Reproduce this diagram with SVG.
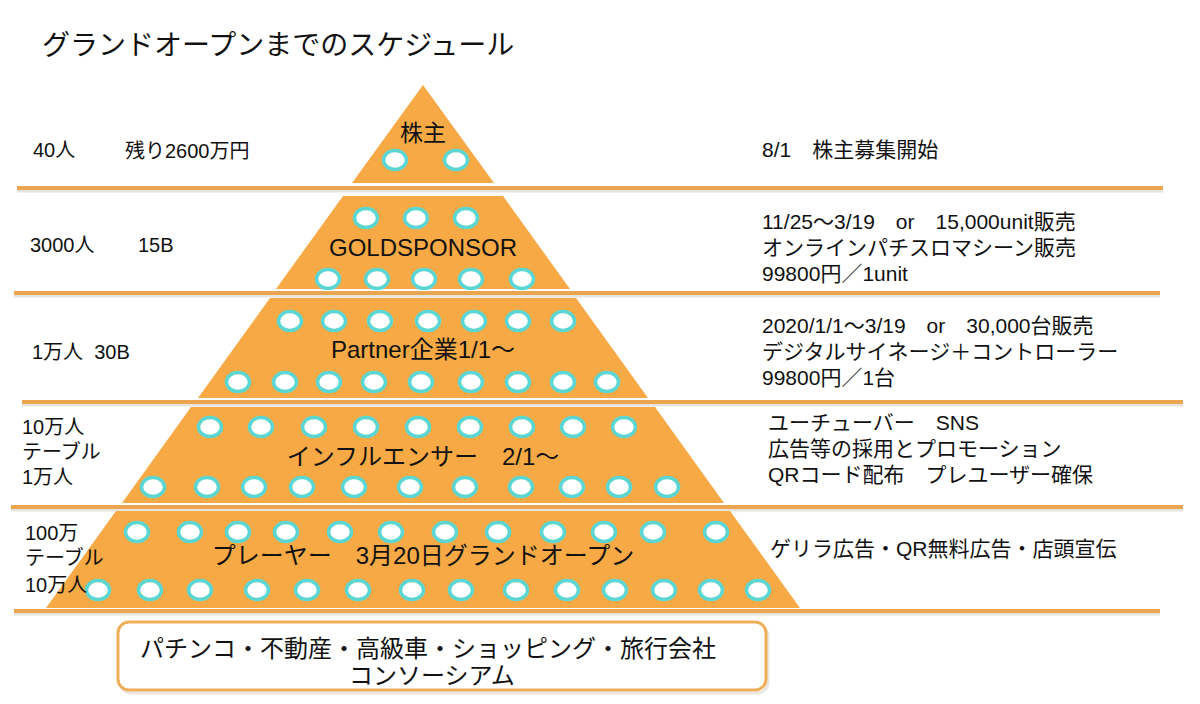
<svg xmlns="http://www.w3.org/2000/svg" width="1200" height="704" viewBox="0 0 1200 704">
<defs>
<style>
.t{font-family:"Liberation Sans","Noto Sans CJK JP",sans-serif;fill:#111;}
.s20{font-size:20px;}
.s21{font-size:21px;}
.s23{font-size:23px;}
.s24{font-size:24px;}
.c{text-anchor:middle;}
.layer{fill:#F6A944;}
.dot{fill:#FFFFFF;stroke:#5CD6D2;stroke-width:3.5;}
.sep{stroke:#EBA54F;stroke-width:4;stroke-linecap:butt;}
.sh{stroke:#D8D2CA;stroke-width:3;opacity:0.6;}
</style>
<ellipse id="d" rx="11.5" ry="9.5" class="dot"/>
</defs>
<rect width="1200" height="704" fill="#FFFFFF"/>

<text class="t" x="42" y="55" style="font-size:28px">グランドオープンまでのスケジュール</text>

<g id="separators">
<line class="sh" x1="17" y1="191" x2="1163" y2="191"/>
<line class="sep" x1="17" y1="188" x2="1163" y2="188"/>
<line class="sh" x1="14" y1="296" x2="1160" y2="296"/>
<line class="sep" x1="14" y1="293" x2="1160" y2="293"/>
<line class="sh" x1="22" y1="405" x2="1183" y2="405"/>
<line class="sep" x1="22" y1="402" x2="1183" y2="402"/>
<line class="sh" x1="11" y1="510" x2="1183" y2="510"/>
<line class="sep" x1="11" y1="507" x2="1183" y2="507"/>
<line class="sh" x1="14" y1="614" x2="1160" y2="614"/>
<line class="sep" x1="14" y1="611" x2="1160" y2="611"/>
</g>

<g id="layer1">
<polygon class="layer" points="423,85 494,183 352,183"/>
<text class="t s23 c" x="423" y="141">株主</text>
<use href="#d" x="395" y="160"/><use href="#d" x="456" y="160"/>
</g>

<g id="layer2">
<polygon class="layer" points="343,196 503,196 570,289 276,289"/>
<use href="#d" x="366" y="218"/><use href="#d" x="416" y="218"/><use href="#d" x="466" y="218"/>
<text class="t s24 c" x="423" y="256">GOLDSPONSOR</text>
<use href="#d" x="328" y="279"/><use href="#d" x="377" y="279"/><use href="#d" x="424" y="279"/><use href="#d" x="471" y="279"/><use href="#d" x="522" y="279"/>
</g>

<g id="layer3">
<polygon class="layer" points="270,298 576,298 648,398 198,398"/>
<use href="#d" x="290" y="321"/><use href="#d" x="334" y="321"/><use href="#d" x="380" y="321"/><use href="#d" x="428" y="321"/><use href="#d" x="474" y="321"/><use href="#d" x="518" y="321"/><use href="#d" x="563" y="321"/>
<text class="t s24 c" x="423" y="358">Partner企業1/1～</text>
<use href="#d" x="238" y="382"/><use href="#d" x="285" y="382"/><use href="#d" x="329" y="382"/><use href="#d" x="374" y="382"/><use href="#d" x="421" y="382"/><use href="#d" x="471" y="382"/><use href="#d" x="518" y="382"/><use href="#d" x="563" y="382"/><use href="#d" x="607" y="382"/>
</g>

<g id="layer4">
<polygon class="layer" points="191,407 655,407 724,503 122,503"/>
<use href="#d" x="210" y="427"/><use href="#d" x="261" y="427"/><use href="#d" x="314" y="427"/><use href="#d" x="366" y="427"/><use href="#d" x="418" y="427"/><use href="#d" x="470" y="427"/><use href="#d" x="522" y="427"/><use href="#d" x="573" y="427"/><use href="#d" x="624" y="427"/>
<text class="t s24 c" x="423" y="465">インフルエンサー　2/1～</text>
<use href="#d" x="153" y="487"/><use href="#d" x="207" y="487"/><use href="#d" x="254" y="487"/><use href="#d" x="302" y="487"/><use href="#d" x="354" y="487"/><use href="#d" x="410" y="487"/><use href="#d" x="465" y="487"/><use href="#d" x="521" y="487"/><use href="#d" x="572" y="487"/><use href="#d" x="619" y="487"/><use href="#d" x="667" y="487"/>
</g>

<g id="layer5">
<polygon class="layer" points="116,511 730,511 800,608 46,608"/>
<use href="#d" x="137" y="532"/><use href="#d" x="190" y="532"/><use href="#d" x="238" y="532"/><use href="#d" x="286" y="532"/><use href="#d" x="340" y="532"/><use href="#d" x="391" y="532"/><use href="#d" x="445" y="532"/><use href="#d" x="498" y="532"/><use href="#d" x="553" y="532"/><use href="#d" x="604" y="532"/><use href="#d" x="653" y="532"/><use href="#d" x="716" y="532"/>
<text class="t s24 c" x="423" y="564">プレーヤー　3月20日グランドオープン</text>
<use href="#d" x="98" y="590"/><use href="#d" x="150" y="590"/><use href="#d" x="200" y="590"/><use href="#d" x="257" y="590"/><use href="#d" x="307" y="590"/><use href="#d" x="358" y="590"/><use href="#d" x="412" y="590"/><use href="#d" x="461" y="590"/><use href="#d" x="516" y="590"/><use href="#d" x="567" y="590"/><use href="#d" x="615" y="590"/><use href="#d" x="664" y="590"/><use href="#d" x="711" y="590"/><use href="#d" x="758" y="590"/>
</g>

<g id="left-labels">
<text class="t s20" x="33" y="157">40人</text>
<text class="t s20" x="125" y="158">残り2600万円</text>
<text class="t s20" x="30" y="252">3000人</text>
<text class="t s20" x="138" y="252">15B</text>
<text class="t s20" x="32" y="359">1万人&#160;&#160;30B</text>
<text class="t s20" x="22" y="434">10万人</text>
<text class="t s20" x="22" y="459">テーブル</text>
<text class="t s20" x="22" y="484">1万人</text>
<text class="t s20" x="25" y="540">100万</text>
<text class="t s20" x="25" y="565">テーブル</text>
<text class="t s20" x="25" y="592">10万人</text>
</g>

<g id="right-labels">
<text class="t s21" x="762" y="157">8/1　株主募集開始</text>
<text class="t s21" x="762" y="229">11/25～3/19　or　15,000unit販売</text>
<text class="t s21" x="762" y="255">オンラインパチスロマシーン販売</text>
<text class="t s21" x="762" y="281">99800円／1unit</text>
<text class="t s21" x="762" y="333">2020/1/1～3/19　or　30,000台販売</text>
<text class="t s21" x="762" y="359">デジタルサイネージ＋コントローラー</text>
<text class="t s21" x="762" y="385">99800円／1台</text>
<text class="t s21" x="768" y="430">ユーチューバー　SNS</text>
<text class="t s21" x="768" y="456">広告等の採用とプロモーション</text>
<text class="t s21" x="768" y="482">QRコード配布　プレユーザー確保</text>
<text class="t s21" x="770" y="556">ゲリラ広告・QR無料広告・店頭宣伝</text>
</g>

<g id="consortium">
<rect x="120" y="625" width="648" height="68" rx="11" fill="none" stroke="#DDD6CC" stroke-width="3" opacity="0.6"/>
<rect x="118" y="622" width="648" height="68" rx="11" fill="#FFFFFF" stroke="#EEAD57" stroke-width="3"/>
<text class="t s24" x="140" y="657">パチンコ・不動産・高級車・ショッピング・旅行会社</text>
<text class="t s24" x="349" y="684">コンソーシアム</text>
</g>
</svg>
